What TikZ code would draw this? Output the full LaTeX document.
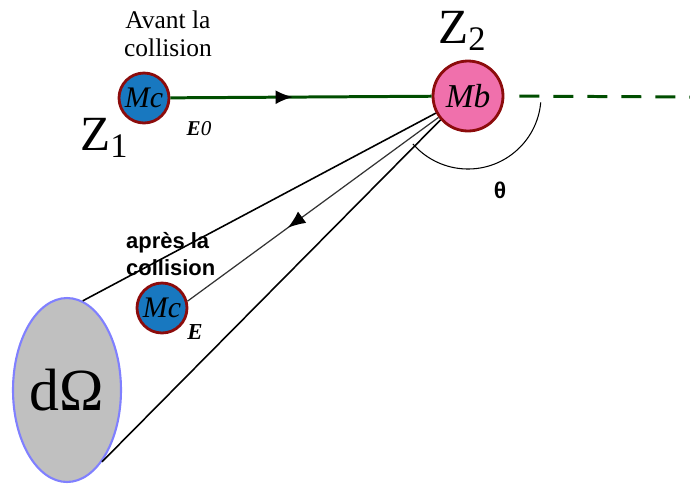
\documentclass[tikz,border=0pt]{standalone}
\usepackage{fontspec}
\setmainfont{Liberation Serif}
\setsansfont{Liberation Sans}
\usepackage{xcolor}
\usetikzlibrary{arrows.meta,shapes.geometric,decorations.markings}

\definecolor{ionblue}{RGB}{24,120,192}
\definecolor{ionpink}{RGB}{240,112,172}
\definecolor{bordeaux}{RGB}{140,12,12}
\definecolor{beamgreen}{RGB}{0,78,0}
\definecolor{conegray}{RGB}{192,192,192}
\definecolor{conerim}{RGB}{128,128,255}

\begin{document}
\begin{tikzpicture}[
    x=0.02cm, y=-0.02cm,
    ion/.style={circle, draw=bordeaux, line width=1.6pt, inner sep=0pt,
                font=\fontsize{17}{17}\selectfont\itshape},
    beam/.style={draw=beamgreen, line width=1.7pt},
    cone/.style={draw=black, line width=0.9pt},
    scatter/.style={draw=black!80, line width=0.7pt},
    midarrow/.style={postaction={decorate},
                     decoration={markings, mark=at position #1 with
                       {\arrow{Latex[length=10pt,width=8pt,color=black]}}}},
    charge/.style={font=\fontsize{28}{28}\selectfont, inner sep=0pt},
    energy/.style={font=\fontsize{12}{12}\selectfont, inner sep=0pt},
  ]
  \useasboundingbox (0,0) rectangle (690,485);

  % ── Before the collision ──
  \node[font=\fontsize{14.5}{16}\selectfont, align=center] at (168,34) (avant)
    {Avant la\\collision};
  \node[ion, fill=ionblue, minimum size=1.0cm] at (144,98) (mc1) {Mc};
  \node[charge, anchor=base west] at (80,150) (z1) {Z\textsubscript{1}};
  \node[energy] at (199,129) (e0) {\textbf{\textit{E}}\textit{0}};

  % ── Target ──
  \node[ion, fill=ionpink, minimum size=1.4cm,
        font=\fontsize{19}{19}\selectfont\itshape] at (468,96) (mb) {Mb};
  \node[charge, anchor=base west] at (438,43) (z2) {Z\textsubscript{2}};
  \coordinate (exit) at (690,97);

  % ── After the collision ──
  \node[font=\sffamily\bfseries\fontsize{12.5}{15.5}\selectfont, align=left,
        anchor=west] at (120,254) (apres) {après la\\collision};
  \node[ion, fill=ionblue, minimum size=1.0cm] at (162,308) (mc2) {Mc};
  \node[energy, font=\fontsize{13}{13}\selectfont] at (195,332) (e) {\textbf{\textit{E}}};

  % ── Solid angle ──
  \node[ellipse, draw=conerim, line width=1.2pt, fill=conegray,
        minimum width=2.16cm, minimum height=3.68cm, inner sep=0pt,
        font=\fontsize{34}{34}\selectfont] at (67,390) (dO) {dΩ};

  % ── Lines ──
  % incoming beam
  \draw[beam, midarrow=0.47] (mc1) -- (mb);
  % forward direction
  \draw[beam, dash pattern=on 0.4cm off 0.28cm, shorten <=0.3cm] (mb.east) -- (exit);

  % cone edges
  \draw[cone] (mb.208) -- (dO.80);
  \draw[cone] (mb.221) -- (dO.-64);

  % scattered ion
  \draw[scatter, midarrow=0.6] (mb.216) -- (mc2.15);

  % scattering angle
  \draw[line width=0.6pt] ([shift={(5:73)}]mb.center)
    arc[start angle=5, end angle=139, radius=73];
  \node[font=\sffamily\bfseries\fontsize{13}{13}\selectfont] at (500,190) (theta) {θ};

\end{tikzpicture}
\end{document}
